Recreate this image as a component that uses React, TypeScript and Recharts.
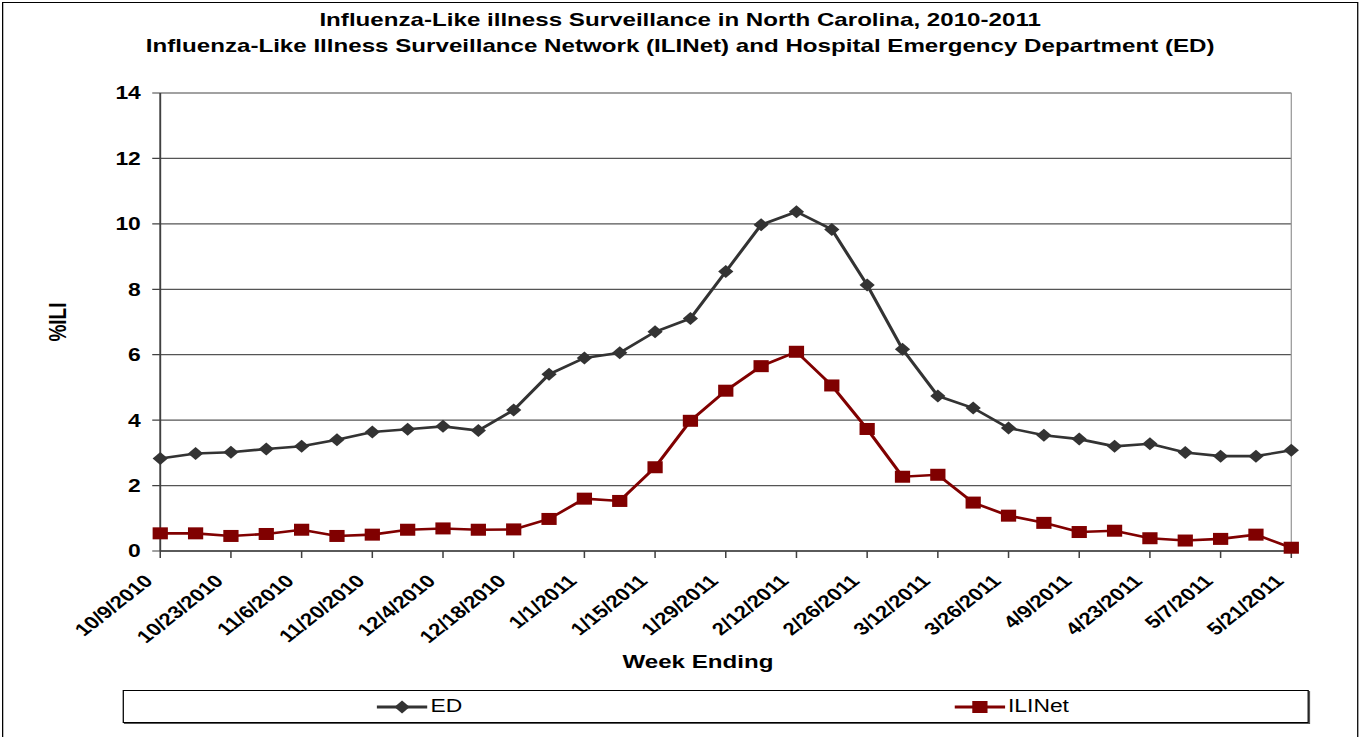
import React from "react";
import { LineChart, Line, XAxis, YAxis, CartesianGrid, Legend, ReferenceLine, Label } from "recharts";

const weeks = [
  "10/9/2010", "10/16/2010", "10/23/2010", "10/30/2010", "11/6/2010", "11/13/2010",
  "11/20/2010", "11/27/2010", "12/4/2010", "12/11/2010", "12/18/2010", "12/25/2010",
  "1/1/2011", "1/8/2011", "1/15/2011", "1/22/2011", "1/29/2011", "2/5/2011",
  "2/12/2011", "2/19/2011", "2/26/2011", "3/5/2011", "3/12/2011", "3/19/2011",
  "3/26/2011", "4/2/2011", "4/9/2011", "4/16/2011", "4/23/2011", "4/30/2011",
  "5/7/2011", "5/14/2011", "5/21/2011",
];

const edValues = [
  2.83, 2.98, 3.02, 3.12, 3.2, 3.4, 3.64, 3.72, 3.81, 3.68, 4.31, 5.4,
  5.9, 6.06, 6.7, 7.11, 8.54, 9.97, 10.37, 9.83, 8.13, 6.17, 4.74, 4.37,
  3.76, 3.54, 3.42, 3.2, 3.28, 3.01, 2.9, 2.9, 3.08,
];

const iliNetValues = [
  0.54, 0.54, 0.46, 0.52, 0.65, 0.46, 0.5, 0.65, 0.69, 0.65, 0.66, 0.98,
  1.6, 1.53, 2.56, 3.98, 4.9, 5.65, 6.09, 5.06, 3.73, 2.27, 2.33, 1.48,
  1.08, 0.86, 0.58, 0.62, 0.39, 0.32, 0.37, 0.5, 0.1,
];

const yTicks = [0, 2, 4, 6, 8, 10, 12, 14];

const titleLines = [
  "Influenza-Like illness Surveillance in North Carolina, 2010-2011",
  "Influenza-Like Illness Surveillance Network (ILINet) and Hospital Emergency Department (ED)",
];

const data = weeks.map((week, i) => ({ week, ED: edValues[i], ILINet: iliNetValues[i] }));

const FONT = '"Liberation Sans", Arial, sans-serif';
const ED_COLOR = "#333333";
const ILI_COLOR = "#800000";
// the original picture is stretched sideways, so the whole chart is drawn narrower and scaled
const SX = 1.27;
const W = 1066;
const H = 734;

const diamondPath = (cx: number, cy: number) =>
  `M${cx},${cy - 6.5}L${cx + 6},${cy}L${cx},${cy + 6.5}L${cx - 6},${cy}Z`;

const renderDiamond = (props: any) => {
  const { cx, cy, index } = props;
  if (cx == null || cy == null) return <g key={`ed-${index}`} />;
  return <path key={`ed-${index}`} d={diamondPath(cx, cy)} fill={ED_COLOR} />;
};

const renderSquare = (props: any) => {
  const { cx, cy, index } = props;
  if (cx == null || cy == null) return <g key={`ili-${index}`} />;
  return <rect key={`ili-${index}`} x={cx - 6} y={cy - 6} width={12} height={12} fill={ILI_COLOR} />;
};

const XTick = ({ x, y, payload }: any) => (
  <g transform={`translate(${x - 5},${y + 22})`}>
    <text
      textAnchor="end"
      transform="rotate(-45)"
      fontSize={17.5}
      fontWeight="bold"
      fontFamily={FONT}
      fill="#000"
    >
      {payload.value}
    </text>
  </g>
);

const YTitle = ({ viewBox }: any) => {
  const cy = viewBox.y + viewBox.height / 2;
  return (
    <text
      x={42.5}
      y={cy}
      dy="0.35em"
      transform={`rotate(-90, 42.5, ${cy})`}
      textAnchor="middle"
      fontSize={19}
      fontWeight="bold"
      fontFamily={FONT}
      fill="#000"
    >
      %ILI
    </text>
  );
};

const XTitle = () => (
  <text
    x={547}
    y={658}
    dy="0.35em"
    textAnchor="middle"
    fontSize={19}
    fontWeight="bold"
    fontFamily={FONT}
    fill="#000"
  >
    Week Ending
  </text>
);

const LegendBox = ({ payload }: any) => (
  <div
    style={{
      display: "flex",
      height: 33,
      boxSizing: "border-box",
      border: "1px solid #000",
      boxShadow: "1px 1px 0 #555",
      background: "#fff",
    }}
  >
    {(payload || []).map((item: any) => (
      <div
        key={item.value}
        style={{ flex: 1, display: "flex", justifyContent: "center", alignItems: "center" }}
      >
        <svg width={40} height={16} style={{ marginRight: 2 }}>
          <line x1={0} y1={8} x2={40} y2={8} stroke={item.color} strokeWidth={3} />
          {item.value === "ED" ? (
            <path d={diamondPath(20, 8)} fill={item.color} />
          ) : (
            <rect x={14} y={2} width={12} height={12} fill={item.color} />
          )}
        </svg>
        <span style={{ fontFamily: FONT, fontSize: 18, color: "#000" }}>{item.value}</span>
      </div>
    ))}
  </div>
);

export default function App() {
  return (
    <div
      style={{
        position: "absolute",
        left: 1.7,
        top: 2,
        width: W + 2,
        height: 740,
        border: "1px solid #000",
        boxSizing: "border-box",
        background: "#fff",
        transform: `scaleX(${SX})`,
        transformOrigin: "0 0",
        fontFamily: FONT,
      }}
    >
      <div
        style={{
          position: "absolute",
          left: 0,
          top: 4,
          width: W,
          textAlign: "center",
          fontSize: 19,
          fontWeight: "bold",
          lineHeight: "26px",
          color: "#000",
        }}
      >
        {titleLines.map((t) => (
          <div key={t}>{t}</div>
        ))}
      </div>
      <div style={{ position: "absolute", left: 0, top: 0 }}>
        <LineChart
          width={W}
          height={H}
          data={data}
          margin={{ top: 90, right: 51.8, left: 122.6, bottom: 152 }}
        >
          <CartesianGrid vertical={false} stroke="#555" strokeWidth={1.2} />
          <ReferenceLine y={14} stroke="#9a9a9a" strokeWidth={1.2} />
          <ReferenceLine x="5/21/2011" stroke="#9a9a9a" strokeWidth={1} />
          <XAxis
            dataKey="week"
            interval={1}
            height={1}
            tickSize={7}
            axisLine={{ stroke: "#404040", strokeWidth: 1.5 }}
            tickLine={{ stroke: "#404040", strokeWidth: 1.2 }}
            tick={(p: any) => <XTick {...p} />}
          >
            <Label content={<XTitle />} />
          </XAxis>
          <YAxis
            domain={[0, 14]}
            ticks={yTicks}
            interval={0}
            width={1}
            tickSize={6.3}
            tickMargin={9}
            axisLine={{ stroke: "#404040", strokeWidth: 1.5 }}
            tickLine={{ stroke: "#404040", strokeWidth: 1.2 }}
            tick={{ fontSize: 18, fontWeight: "bold", fill: "#000", fontFamily: FONT }}
          >
            <Label content={<YTitle />} />
          </YAxis>
          <Legend
            content={<LegendBox />}
            wrapperStyle={{ left: 93.7, top: 687, width: 934.6, height: 33 }}
          />
          <Line
            type="linear"
            dataKey="ED"
            name="ED"
            stroke={ED_COLOR}
            strokeWidth={2.6}
            dot={renderDiamond}
            activeDot={false}
            isAnimationActive={false}
          />
          <Line
            type="linear"
            dataKey="ILINet"
            name="ILINet"
            stroke={ILI_COLOR}
            strokeWidth={2.6}
            dot={renderSquare}
            activeDot={false}
            isAnimationActive={false}
          />
        </LineChart>
      </div>
    </div>
  );
}
